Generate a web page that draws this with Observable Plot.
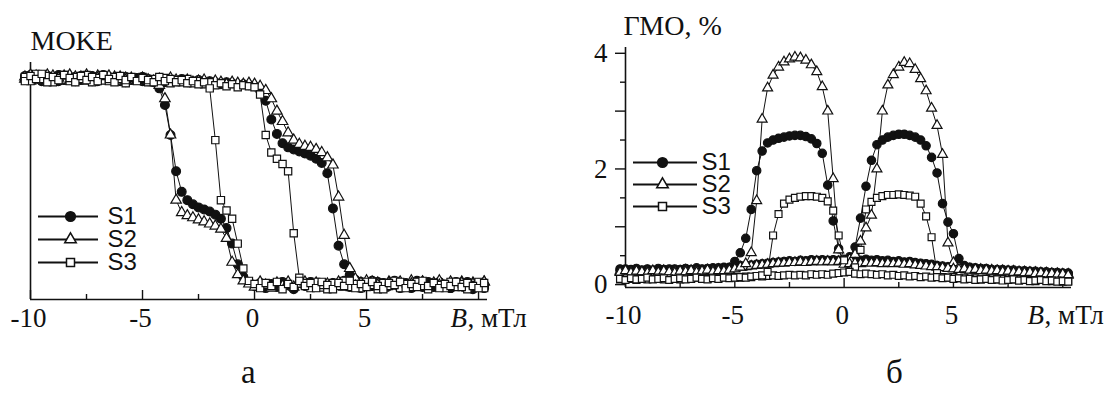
<!DOCTYPE html>
<html>
<head>
<meta charset="utf-8">
<script src="https://cdn.jsdelivr.net/npm/d3@7"></script>
<script src="https://cdn.jsdelivr.net/npm/@observablehq/plot@0.6"></script>
<style>
  html, body { margin: 0; padding: 0; background: #fff; }
  #fig { position: relative; width: 1113px; height: 412px; overflow: hidden;
         font-family: "Liberation Serif", "Times New Roman", serif; color: #111; }
  #fig > div { position: absolute; }
  #fig .serif svg, #fig .serif svg text { font-family: "Liberation Serif", "Times New Roman", serif; }
  #fig .sans svg, #fig .sans svg text { font-family: "Liberation Sans", Arial, sans-serif; }
  .tag { font-size: 33px; line-height: 1; }
</style>
</head>
<body>
<div id="fig"></div>
<script>
// Field sweep points, mT
const field = [
  -10.25, -10, -9.75, -9.5, -9.25, -9, -8.75, -8.5, -8.25, -8,
  -7.75, -7.5, -7.25, -7, -6.75, -6.5, -6.25, -6, -5.75, -5.5,
  -5.25, -5, -4.75, -4.5, -4.25, -4, -3.75, -3.5, -3.25, -3,
  -2.75, -2.5, -2.25, -2, -1.75, -1.5, -1.25, -1, -0.75, -0.5,
  -0.25, 0, 0.25, 0.5, 0.75, 1, 1.25, 1.5, 1.75, 2,
  2.25, 2.5, 2.75, 3, 3.25, 3.5, 3.75, 4, 4.25, 4.5,
  4.75, 5, 5.25, 5.5, 5.75, 6, 6.25, 6.5, 6.75, 7,
  7.25, 7.5, 7.75, 8, 8.25, 8.5, 8.75, 9, 9.25, 9.5,
  9.75, 10, 10.25
];

// MOKE signal (normalised), increasing-field and decreasing-field branches
const mokeS1Up = [
  1.02, 0.99, 1.03, 0.98, 1.01, 1.00, 0.97, 1.02, 0.99, 1.01,
  0.98, 1.00, 1.02, 0.97, 0.99, 1.01, 0.98, 1.00, 0.96, 0.99,
  1.00, 0.97, 0.99, 0.98, 1.00, 0.96, 0.98, 0.97, 0.99, 0.96,
  0.97, 0.98, 0.95, 0.97, 0.96, 0.94, 0.96, 0.95, 0.93, 0.94,
  0.93, 0.92, 0.88, 0.78, 0.60, 0.46, 0.37, 0.33, 0.31, 0.29,
  0.27, 0.25, 0.22, 0.18, 0.08, -0.26, -0.62, -0.80, -0.90, -0.95,
  -0.97, -1.00, -0.96, -1.02, -0.98, -1.01, -0.97, -1.03, -0.99, -1.00,
  -0.96, -1.02, -0.98, -1.01, -0.97, -1.00, -1.03, -0.98, -1.01, -0.97,
  -1.02, -0.99, -1.03
];
const mokeS1Down = [
  0.98, 1.03, 1.00, 0.97, 1.02, 0.99, 1.03, 0.98, 1.01, 0.97,
  1.02, 0.99, 0.97, 1.01, 1.03, 0.98, 1.00, 0.97, 1.01, 0.98,
  0.99, 1.01, 0.97, 0.96, 0.90, 0.74, 0.45, 0.10, -0.10, -0.18,
  -0.22, -0.25, -0.27, -0.29, -0.32, -0.36, -0.45, -0.60, -0.80, -0.92,
  -0.97, -1.01, -0.98, -1.03, -0.99, -1.02, -0.97, -1.00, -1.04, -0.98,
  -1.01, -0.97, -1.02, -0.99, -1.03, -0.98, -1.00, -0.96, -1.02, -0.99,
  -1.03, -0.98, -1.01, -0.97, -1.02, -1.00, -0.96, -1.01, -0.98, -1.03,
  -0.99, -1.01, -0.97, -1.02, -0.98, -1.00, -1.03, -0.97, -1.01, -0.99,
  -1.04, -0.98, -1.01
];
const mokeS2Up = [
  0.99, 1.03, 0.98, 1.01, 0.97, 1.02, 1.00, 0.98, 1.03, 0.99,
  1.01, 0.97, 1.00, 1.02, 0.98, 0.99, 1.01, 0.97, 1.00, 0.98,
  0.97, 1.00, 0.98, 0.96, 0.99, 0.97, 1.00, 0.98, 0.96, 0.98,
  0.96, 0.97, 0.98, 0.95, 0.97, 0.96, 0.94, 0.96, 0.95, 0.94,
  0.95, 0.94, 0.92, 0.88, 0.80, 0.68, 0.58, 0.47, 0.40, 0.36,
  0.34, 0.33, 0.31, 0.28, 0.23, 0.16, -0.15, -0.52, -0.84, -0.94,
  -0.99, -0.96, -1.01, -0.98, -1.02, -0.97, -1.00, -0.98, -1.02, -0.96,
  -1.00, -0.97, -1.02, -0.99, -0.96, -1.01, -0.98, -1.02, -0.97, -1.00,
  -0.98, -1.02, -0.97
];
const mokeS2Down = [
  1.01, 0.97, 1.02, 0.99, 1.03, 0.98, 1.00, 1.02, 0.97, 1.01,
  0.99, 1.03, 0.98, 1.00, 0.97, 1.02, 0.99, 1.01, 0.98, 1.00,
  0.97, 0.99, 0.98, 0.97, 0.93, 0.80, 0.45, -0.18, -0.30, -0.33,
  -0.35, -0.37, -0.39, -0.41, -0.43, -0.46, -0.55, -0.78, -0.90, -0.96,
  -0.99, -1.02, -0.97, -1.00, -1.03, -0.98, -1.01, -0.97, -1.02, -0.99,
  -0.97, -1.01, -0.98, -1.03, -0.99, -1.00, -0.97, -1.02, -0.98, -1.01,
  -0.98, -1.02, -0.97, -1.00, -1.03, -0.98, -1.01, -0.97, -1.02, -0.99,
  -1.01, -0.97, -1.03, -0.98, -1.00, -1.02, -0.97, -1.01, -0.98, -1.03,
  -0.99, -1.01, -0.97
];
const mokeS3Up = [
  1.01, 0.97, 1.04, 0.99, 1.02, 0.96, 1.00, 1.03, 0.97, 1.01,
  0.99, 1.03, 0.96, 1.00, 1.02, 0.97, 1.01, 0.99, 0.95, 1.00,
  0.98, 1.01, 0.96, 0.99, 0.97, 1.00, 0.95, 0.98, 0.96, 0.99,
  0.95, 0.97, 0.94, 0.96, 0.93, 0.95, 0.92, 0.94, 0.91, 0.93,
  0.92, 0.91, 0.84, 0.45, 0.28, 0.22, 0.17, 0.10, -0.50, -0.93,
  -0.98, -1.03, -0.97, -1.00, -1.04, -0.98, -1.01, -0.96, -1.02, -0.99,
  -1.03, -0.97, -1.00, -1.04, -0.98, -1.01, -0.96, -1.03, -0.99, -1.02,
  -0.97, -1.01, -1.04, -0.98, -1.00, -1.03, -0.97, -1.02, -0.99, -1.04,
  -1.00, -0.97, -1.03
];
const mokeS3Down = [
  0.97, 1.02, 0.99, 1.04, 0.96, 1.01, 0.98, 1.03, 1.00, 0.96,
  1.02, 0.98, 1.01, 0.97, 1.03, 0.99, 0.96, 1.02, 0.98, 1.01,
  0.97, 1.00, 0.98, 0.96, 1.01, 0.97, 0.99, 0.96, 0.98, 0.95,
  0.97, 0.94, 0.96, 0.90, 0.40, -0.18, -0.28, -0.36, -0.60, -0.84,
  -0.96, -0.99, -1.03, -0.98, -1.01, -0.97, -1.04, -0.99, -1.02, -0.96,
  -1.01, -0.98, -1.03, -0.97, -1.00, -1.04, -0.98, -1.01, -0.96, -1.03,
  -0.99, -1.02, -0.97, -1.01, -1.04, -0.98, -1.00, -0.97, -1.03, -0.99,
  -1.02, -0.96, -1.01, -0.98, -1.03, -0.99, -1.01, -0.97, -1.02, -0.98,
  -1.01, -1.03, -0.98
];

// GMR, %, increasing-field and decreasing-field branches
const gmoS1Up = [
  0.24, 0.27, 0.25, 0.28, 0.24, 0.26, 0.25, 0.28, 0.26, 0.24,
  0.27, 0.25, 0.27, 0.26, 0.29, 0.27, 0.26, 0.29, 0.28, 0.30,
  0.29, 0.31, 0.33, 0.32, 0.34, 0.35, 0.36, 0.37, 0.38, 0.39,
  0.40, 0.41, 0.40, 0.42, 0.41, 0.43, 0.42, 0.43, 0.42, 0.43,
  0.42, 0.43, 0.48, 0.65, 1.15, 1.70, 2.15, 2.42, 2.50, 2.55,
  2.58, 2.60, 2.60, 2.58, 2.55, 2.50, 2.40, 2.20, 1.93, 1.40,
  1.08, 0.88, 0.45, 0.33, 0.30, 0.29, 0.27, 0.28, 0.26, 0.25,
  0.26, 0.24, 0.25, 0.23, 0.24, 0.22, 0.23, 0.21, 0.22, 0.20,
  0.21, 0.19, 0.20
];
const gmoS1Down = [
  0.27, 0.24, 0.26, 0.23, 0.25, 0.27, 0.24, 0.26, 0.25, 0.27,
  0.24, 0.26, 0.28, 0.25, 0.27, 0.26, 0.28, 0.27, 0.29, 0.28,
  0.30, 0.40, 0.55, 0.80, 1.30, 1.97, 2.31, 2.45, 2.50, 2.53,
  2.55, 2.57, 2.58, 2.58, 2.56, 2.52, 2.44, 2.27, 1.72, 1.10,
  0.62, 0.40, 0.42, 0.43, 0.42, 0.44, 0.42, 0.43, 0.41, 0.42,
  0.40, 0.41, 0.39, 0.40, 0.38, 0.37, 0.36, 0.35, 0.33, 0.32,
  0.31, 0.30, 0.29, 0.30, 0.28, 0.27, 0.28, 0.26, 0.25, 0.26,
  0.24, 0.25, 0.23, 0.24, 0.22, 0.23, 0.21, 0.22, 0.20, 0.21,
  0.19, 0.20, 0.18
];
const gmoS2Up = [
  0.23, 0.20, 0.22, 0.24, 0.21, 0.23, 0.20, 0.22, 0.24, 0.21,
  0.23, 0.22, 0.25, 0.23, 0.24, 0.22, 0.25, 0.24, 0.26, 0.25,
  0.27, 0.28, 0.30, 0.31, 0.32, 0.33, 0.34, 0.35, 0.36, 0.37,
  0.37, 0.38, 0.38, 0.39, 0.38, 0.39, 0.40, 0.39, 0.40, 0.39,
  0.40, 0.41, 0.44, 0.52, 0.75, 0.98, 1.20, 2.00, 3.00, 3.45,
  3.63, 3.76, 3.84, 3.82, 3.72, 3.56, 3.35, 3.05, 2.75, 2.25,
  0.72, 0.38, 0.30, 0.28, 0.27, 0.25, 0.26, 0.24, 0.25, 0.23,
  0.24, 0.22, 0.23, 0.21, 0.22, 0.20, 0.21, 0.19, 0.20, 0.18,
  0.19, 0.17, 0.18
];
const gmoS2Down = [
  0.21, 0.24, 0.20, 0.23, 0.22, 0.20, 0.24, 0.21, 0.23, 0.22,
  0.20, 0.23, 0.22, 0.24, 0.21, 0.23, 0.25, 0.22, 0.24, 0.23,
  0.25, 0.27, 0.30, 0.36, 0.55, 1.45, 2.86, 3.40, 3.62, 3.76,
  3.85, 3.90, 3.93, 3.92, 3.88, 3.80, 3.68, 3.42, 3.00, 1.83,
  0.60, 0.35, 0.36, 0.37, 0.36, 0.38, 0.37, 0.38, 0.36, 0.37,
  0.36, 0.37, 0.35, 0.36, 0.34, 0.33, 0.32, 0.31, 0.30, 0.29,
  0.28, 0.27, 0.26, 0.27, 0.25, 0.26, 0.24, 0.25, 0.23, 0.24,
  0.22, 0.23, 0.21, 0.22, 0.20, 0.21, 0.19, 0.20, 0.18, 0.19,
  0.17, 0.18, 0.16
];
const gmoS3Up = [
  0.09, 0.11, 0.10, 0.08, 0.11, 0.09, 0.10, 0.12, 0.09, 0.11,
  0.10, 0.09, 0.11, 0.10, 0.12, 0.11, 0.10, 0.12, 0.11, 0.13,
  0.12, 0.13, 0.12, 0.14, 0.13, 0.15, 0.14, 0.15, 0.16, 0.15,
  0.16, 0.17, 0.16, 0.17, 0.16, 0.18, 0.17, 0.18, 0.17, 0.19,
  0.20, 0.21, 0.22, 0.30, 0.60, 1.30, 1.43, 1.50, 1.53, 1.55,
  1.55, 1.56, 1.55, 1.54, 1.52, 1.40, 1.18, 0.82, 0.20, 0.13,
  0.12, 0.13, 0.11, 0.12, 0.10, 0.11, 0.09, 0.10, 0.11, 0.09,
  0.10, 0.08, 0.09, 0.07, 0.09, 0.08, 0.06, 0.08, 0.07, 0.06,
  0.07, 0.05, 0.06
];
const gmoS3Down = [
  0.10, 0.08, 0.11, 0.09, 0.10, 0.12, 0.09, 0.10, 0.11, 0.08,
  0.10, 0.11, 0.09, 0.10, 0.12, 0.10, 0.09, 0.11, 0.10, 0.12,
  0.11, 0.12, 0.13, 0.12, 0.14, 0.15, 0.16, 0.22, 0.85, 1.22,
  1.40, 1.47, 1.50, 1.52, 1.53, 1.53, 1.52, 1.50, 1.44, 1.28,
  0.85, 0.42, 0.22, 0.19, 0.18, 0.19, 0.18, 0.17, 0.18, 0.16,
  0.17, 0.15, 0.16, 0.14, 0.15, 0.13, 0.14, 0.12, 0.13, 0.11,
  0.12, 0.10, 0.11, 0.09, 0.10, 0.08, 0.09, 0.10, 0.08, 0.09,
  0.07, 0.08, 0.09, 0.07, 0.08, 0.06, 0.07, 0.08, 0.06, 0.07,
  0.05, 0.06, 0.05
];

// Axis ticks and labels
const samples = ["S1", "S2", "S3"];
const fieldMajor = [-10, -5, 0, 5, 10];
const fieldMinor = [-7.5, -2.5, 2.5, 7.5];
const fieldLabels = [-10, -5, 0, 5];
const gmoMajor = [0, 1, 2, 3, 4];
const gmoMinor = [0.5, 1.5, 2.5, 3.5];
const gmoLabels = [0, 2, 4];
const fieldUnitLabel = ["B", ", мТл"];

// ---- drawing ----
const ink = "#111";
const serif = '"Liberation Serif", "Times New Roman", serif';
const sans = '"Liberation Sans", Arial, sans-serif';
const markerStyle = {
  S1: {symbol: "circle", fill: ink, r: 4.4},
  S2: {symbol: "triangle", fill: "white", r: 3.9},
  S3: {symbol: "square", fill: "white", r: 4.1}
};

function table(values, sample, sweep) {
  return field.map((B, i) => ({B, value: values[i], sample, sweep}));
}
const mokeRows = [
  ...table(mokeS1Up, "S1", "up"), ...table(mokeS1Down, "S1", "down"),
  ...table(mokeS2Up, "S2", "up"), ...table(mokeS2Down, "S2", "down"),
  ...table(mokeS3Up, "S3", "up"), ...table(mokeS3Down, "S3", "down")
];
const gmoRows = [
  ...table(gmoS1Up, "S1", "up"), ...table(gmoS1Down, "S1", "down"),
  ...table(gmoS2Up, "S2", "up"), ...table(gmoS2Down, "S2", "down"),
  ...table(gmoS3Up, "S3", "up"), ...table(gmoS3Down, "S3", "down")
];

function curveMarks(rows, scale) {
  return [
    Plot.line(rows, {x: "B", y: "value", z: d => d.sample + d.sweep, stroke: ink, strokeWidth: 1}),
    ...samples.map(s => Plot.dot(rows.filter(d => d.sample === s), {
      x: "B", y: "value", symbol: markerStyle[s].symbol, r: markerStyle[s].r * scale,
      fill: markerStyle[s].fill, stroke: ink, strokeWidth: 1.2
    }))
  ];
}

function fieldAxis(labelPad, unitX) {
  return [
    Plot.axisX({ticks: fieldMajor, tickSize: -9, tickFormat: () => "", strokeWidth: 1.4, label: null}),
    Plot.axisX({ticks: fieldMinor, tickSize: -5, tickFormat: () => "", strokeWidth: 1.4, label: null}),
    Plot.axisX({ticks: fieldLabels, tickSize: 0, tickPadding: labelPad, tickFormat: d => String(d),
      dx: -2, label: null, fontFamily: serif}),
    Plot.text([fieldUnitLabel[0]], {x: () => unitX, frameAnchor: "bottom", lineAnchor: "top", dy: labelPad,
      textAnchor: "start", fontStyle: "italic", fontFamily: serif}),
    Plot.text([fieldUnitLabel[1]], {x: () => unitX, frameAnchor: "bottom", lineAnchor: "top", dy: labelPad,
      dx: 17, textAnchor: "start", fontFamily: serif})
  ];
}

const baseStyle = {fontFamily: serif, fontSize: "27px", color: ink, background: "transparent", overflow: "visible"};

const mokeYMin = -1.14;
const mokePlot = Plot.plot({
  width: 560, height: 345,
  marginLeft: 30, marginRight: 73, marginTop: 62, marginBottom: 46,
  x: {domain: [-10, 10.4], label: null},
  y: {domain: [mokeYMin, 1.15], axis: null},
  style: baseStyle,
  marks: [
    Plot.ruleX([-10], {stroke: ink, strokeWidth: 1.6}),
    Plot.ruleY([mokeYMin], {stroke: ink, strokeWidth: 1.6}),
    ...fieldAxis(8, 8.75),
    Plot.text(["MOKE"], {frameAnchor: "top-left", textAnchor: "start", lineAnchor: "top", dy: -32,
      fontSize: 28, fontFamily: serif}),
    ...curveMarks(mokeRows, 1)
  ]
});

const gmoYMin = -0.05;
const gmoPlot = Plot.plot({
  width: 553, height: 345,
  marginLeft: 65, marginRight: 42, marginTop: 47, marginBottom: 58,
  x: {domain: [-10, 10.4], label: null},
  y: {domain: [gmoYMin, 4.1], label: null},
  style: baseStyle,
  marks: [
    Plot.ruleX([-10], {stroke: ink, strokeWidth: 1.6}),
    Plot.ruleY([gmoYMin], {stroke: ink, strokeWidth: 1.6}),
    ...fieldAxis(17, 8.39),
    Plot.axisY({ticks: gmoMajor, tickSize: 10, tickFormat: () => "", strokeWidth: 1.4, label: null}),
    Plot.axisY({ticks: gmoMinor, tickSize: 5, tickFormat: () => "", strokeWidth: 1.4, label: null}),
    Plot.axisY({ticks: gmoLabels, tickSize: 0, tickPadding: 18, tickFormat: d => String(d), label: null,
      fontFamily: serif}),
    Plot.text(["ГМО, %"], {frameAnchor: "top-left", textAnchor: "start", lineAnchor: "top", dx: -2, dy: -32,
      fontSize: 28, fontFamily: serif}),
    ...curveMarks(gmoRows, 0.95)
  ]
});

function legendPlot(rowRange, lineEnd, markerX, textX) {
  return Plot.plot({
    width: 110, height: 100, margin: 0,
    x: {domain: [0, 110], range: [0, 110], axis: null},
    y: {type: "point", domain: samples, range: rowRange, axis: null},
    style: {fontFamily: sans, fontSize: "24px", color: ink, background: "transparent", overflow: "visible"},
    marks: [
      Plot.ruleY(samples, {y: d => d, x1: () => 8, x2: () => lineEnd, stroke: ink, strokeWidth: 2}),
      ...samples.map(s => Plot.dot([s], {
        x: () => markerX, y: d => d, symbol: markerStyle[s].symbol, r: markerStyle[s].r * 1.1,
        fill: markerStyle[s].fill, stroke: ink, strokeWidth: 1.5
      })),
      Plot.text(samples, {x: () => textX, y: d => d, textAnchor: "start", fill: ink, fontFamily: sans})
    ]
  });
}

const fig = document.getElementById("fig");
function place(node, left, top, cls) {
  const box = document.createElement("div");
  box.style.left = left + "px";
  box.style.top = top + "px";
  if (cls) box.className = cls;
  if (typeof node === "string") box.textContent = node; else box.appendChild(node);
  fig.appendChild(box);
}
place(mokePlot, 0, 0, "serif");
place(gmoPlot, 560, 0, "serif");
place(legendPlot([19, 88], 68, 40, 77), 30, 185, "sans");
place(legendPlot([20, 88], 72, 37, 76), 625, 130, "sans");
place("а", 241, 356, "tag");
place("б", 886, 356, "tag");
</script>
</body>
</html>
